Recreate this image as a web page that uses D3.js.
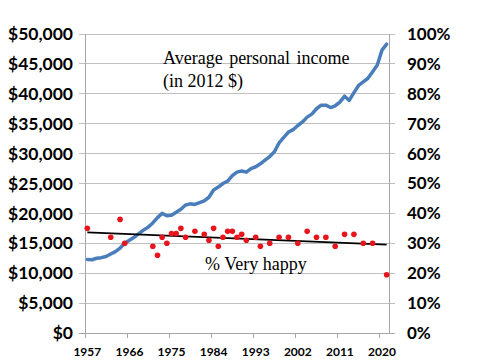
<!DOCTYPE html>
<html><head><meta charset="utf-8">
<script src="https://cdn.jsdelivr.net/npm/d3@7"></script>
<style>body{margin:0;background:#fff}svg{display:block}</style>
</head><body>
<svg id="c" width="480" height="360"></svg>
<script>
const incomeYears = d3.range(1957, 2022);
const incomeValues = [12300,12250,12500,12600,12800,13200,13600,14200,15000,15500,
16000,16600,17200,17700,18400,19300,20000,19600,19700,20200,
20700,21400,21600,21500,21800,22100,22700,23900,24400,25000,
25400,26300,26900,27100,26900,27500,27800,28300,28900,29500,
30300,31800,32700,33600,34000,34700,35300,36100,36600,37500,
38100,38100,37700,38000,38600,39600,38900,40200,41400,42000,
42600,43700,44800,47300,48300];
const happyYears = [1957,1962,1964,1965,1971,1972,1973,1974,1975,1976,1977,1978,1980,1982,1983,1984,1985,1986,1987,1988,1989,1990,1991,1993,1994,1996,1998,2000,2002,2004,2006,2008,2010,2012,2014,2016,2018,2021];
const happyValues = [35,32,38,30,29,26,32,30,33.3,33.3,35,32,34,33,31,35,29,32,34,34,32,33,31,32,29,30,32,32,30,34,32,32,29,33,33,30,30,19.5];
const yearTicks = [1957,1966,1975,1984,1993,2002,2011,2020];
const incomeTicks = d3.range(0, 50001, 5000);
const pctTicks = d3.range(0, 1.001, 0.1);

const svg = d3.select("#c");
const L = 85, R = 389, T = 34, B = 333;
const x = d3.scaleBand().domain(incomeYears).range([L, R]).paddingInner(0).paddingOuter(0);
const xc = yr => x(yr) + x.bandwidth()/2;
const yI = d3.scaleLinear().domain([0, 50000]).range([B, T]);
const yP = d3.scaleLinear().domain([0, 1]).range([B, T]);

// gridlines
svg.append("g").selectAll("line").data(incomeTicks).join("line")
  .attr("x1", L - 6).attr("x2", R + 6)
  .attr("y1", d => yI(d)).attr("y2", d => yI(d))
  .attr("stroke", "#c0c0c0").attr("stroke-width", 1).attr("shape-rendering","crispEdges");

// left axis
const la = svg.append("g").attr("transform", `translate(${L},0)`)
  .call(d3.axisLeft(yI).tickValues(incomeTicks).tickFormat(d => "$" + d3.format(",")(d)).tickSize(0).tickPadding(12));
la.select(".domain").attr("stroke", "#a6a6a6");
la.selectAll("text").attr("font-family", "Lato, 'Open Sans', sans-serif").attr("font-weight", "bold").attr("font-size", "17.5px").attr("fill", "#000");

// right axis
const ra = svg.append("g").attr("transform", `translate(${R},0)`)
  .call(d3.axisRight(yP).tickValues(pctTicks).tickFormat(d3.format(".0%")).tickSize(0).tickPadding(18));
ra.select(".domain").attr("stroke", "#a6a6a6");
ra.selectAll("text").attr("font-family", "Lato, 'Open Sans', sans-serif").attr("font-weight", "bold").attr("font-size", "17px").attr("fill", "#000");

// bottom axis
svg.append("line").attr("x1", L - 6).attr("x2", R + 6).attr("y1", B).attr("y2", B)
  .attr("stroke", "#a6a6a6").attr("shape-rendering","crispEdges");
const bt = svg.append("g");
bt.selectAll("line").data(yearTicks).join("line")
  .attr("x1", d => x(d)).attr("x2", d => x(d)).attr("y1", B).attr("y2", B + 5)
  .attr("stroke", "#a6a6a6").attr("shape-rendering","crispEdges");
bt.selectAll("text").data(yearTicks).join("text")
  .attr("x", d => xc(d)).attr("y", B + 23).attr("text-anchor", "middle")
  .attr("font-family", "Lato, 'Open Sans', sans-serif").attr("font-weight", "bold").attr("font-size", "12px")
  .text(d => d);

// income line
const incomeData = incomeYears.map((yr, i) => ({yr, v: incomeValues[i]}));
svg.append("path").datum(incomeData)
  .attr("d", d3.line().x(d => xc(d.yr)).y(d => yI(d.v)))
  .attr("fill", "none").attr("stroke", "#4a7ebb").attr("stroke-width", 3.5).attr("stroke-linejoin", "round").attr("stroke-linecap","round");

// happy dots
const happyData = happyYears.map((yr, i) => ({yr, v: happyValues[i] / 100}));
// trend line (least squares)
const n = happyData.length;
const mx = d3.mean(happyData, d => d.yr), my = d3.mean(happyData, d => d.v);
const slope = d3.sum(happyData, d => (d.yr - mx) * (d.v - my)) / d3.sum(happyData, d => (d.yr - mx) ** 2);
const icpt = my - slope * mx;
const trendEnds = [1957, 2021];
svg.append("line")
  .attr("x1", xc(trendEnds[0])).attr("y1", yP(icpt + slope * trendEnds[0]))
  .attr("x2", xc(trendEnds[1])).attr("y2", yP(icpt + slope * trendEnds[1]))
  .attr("stroke", "#000").attr("stroke-width", 1.6);

svg.append("g").selectAll("circle").data(happyData).join("circle")
  .attr("cx", d => xc(d.yr)).attr("cy", d => yP(d.v)).attr("r", 2.8)
  .attr("fill", "#e8141c");

// annotations
const ann = svg.append("g").attr("font-family", "'Liberation Serif', 'Times New Roman', serif").attr("font-size", "18px").attr("fill", "#000");
ann.append("text").attr("x", 163).attr("y", 64).attr("word-spacing", "2px").text("Average personal income");
ann.append("text").attr("x", 163).attr("y", 87).text("(in 2012 $)");
ann.append("text").attr("x", 205).attr("y", 270).text("% Very happy");
</script>
</body></html>
